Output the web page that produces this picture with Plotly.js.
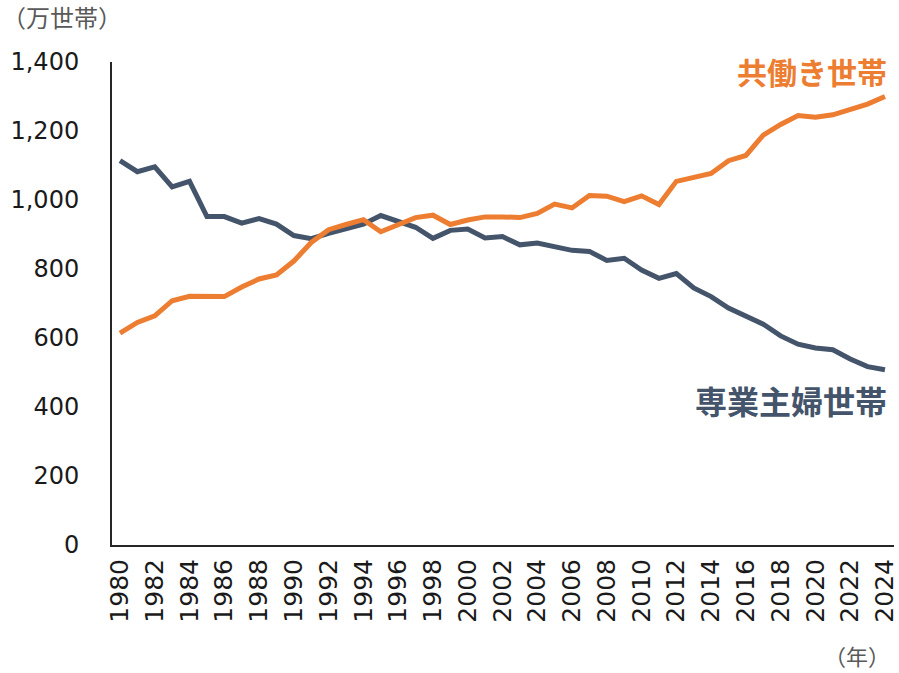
<!DOCTYPE html>
<html>
<head>
<meta charset="utf-8">
<script src="https://cdn.plot.ly/plotly-3.0.1.min.js"></script>
<style>html,body{margin:0;padding:0;background:#fff;}#chart{width:899px;height:673px;}</style>
</head>
<body>
<div id="chart"></div>
<script>
const years = [1980,1981,1982,1983,1984,1985,1986,1987,1988,1989,1990,1991,1992,1993,1994,1995,1996,1997,1998,1999,2000,2001,2002,2003,2004,2005,2006,2007,2008,2009,2010,2011,2012,2013,2014,2015,2016,2017,2018,2019,2020,2021,2022,2023,2024];
const dualIncome = [614,645,664,708,721,722,720,748,771,783,823,877,914,929,943,908,927,949,956,929,942,951,951,949,961,988,977,1013,1011,995,1012,987,1054,1065,1077,1114,1129,1188,1219,1245,1240,1247,1262,1278,1300];
const housewife = [1114,1082,1096,1038,1054,952,952,933,946,930,897,888,903,915,930,955,937,921,889,912,916,890,894,870,875,863,854,851,825,831,797,773,787,745,720,687,664,640,606,582,571,566,539,517,508];
const tickYears = [1980,1982,1984,1986,1988,1990,1992,1994,1996,1998,2000,2002,2004,2006,2008,2010,2012,2014,2016,2018,2020,2022,2024];
const yTicks = [0,200,400,600,800,1000,1200,1400];
const labelDual = '共働き世帯';
const labelWife = '専業主婦世帯';
const yUnit = '（万世帯）';
const xUnit = '（年）';

const orange = '#ED7D31';
const navy = '#44546A';
const W = 782, H = 483;

const traces = [
  {x: years, y: housewife, type: 'scatter', mode: 'lines', line: {color: navy, width: 5}, hoverinfo: 'x+y'},
  {x: years, y: dualIncome, type: 'scatter', mode: 'lines', line: {color: orange, width: 5}, hoverinfo: 'x+y'}
];

const layout = {
  width: 899, height: 673,
  margin: {l: 112, r: 5, t: 62, b: 128},
  paper_bgcolor: '#fff', plot_bgcolor: '#fff',
  showlegend: false,
  font: {family: 'DejaVu Sans, Verdana, sans-serif', color: '#1a1a1a', size: 25},
  xaxis: {
    range: [1979.54, 2024.52],
    tickmode: 'array', tickvals: tickYears, ticktext: tickYears.map(String),
    tickangle: -90, ticks: '', ticklabelstandoff: 2, ticklabeloverflow: 'allow',
    showgrid: false, zeroline: false,
    showline: true, linecolor: '#262626', linewidth: 2,
    tickfont: {size: 25, family: 'DejaVu Sans, Verdana, sans-serif', color: '#1a1a1a'}
  },
  yaxis: {
    range: [0, 1400],
    tickmode: 'array', tickvals: yTicks, ticktext: yTicks.map(v => v.toLocaleString('en-US')),
    ticks: '', ticklabelstandoff: 26,
    showgrid: false, zeroline: false,
    showline: true, linecolor: '#262626', linewidth: 2,
    tickfont: {size: 24, family: 'DejaVu Sans, Verdana, sans-serif', color: '#1a1a1a'}
  },
  annotations: [
    {text: yUnit, xref: 'paper', yref: 'paper', x: -112/W, y: 1 + 45/H, xanchor: 'left', yanchor: 'middle', showarrow: false,
     font: {family: 'Noto Sans CJK JP', size: 24, color: '#595959'}},
    {text: xUnit, xref: 'paper', yref: 'paper', x: 1 - 2/W, y: -110/H, xanchor: 'right', yanchor: 'middle', showarrow: false,
     font: {family: 'Noto Sans CJK JP', size: 22, color: '#595959'}},
    {text: '<b>' + labelDual + '</b>', xref: 'paper', yref: 'paper', x: 1 - 5/W, y: 1 - 9/H, xanchor: 'right', yanchor: 'middle', showarrow: false,
     font: {family: 'Noto Sans CJK JP', size: 30, color: orange}},
    {text: '<b>' + labelWife + '</b>', xref: 'paper', yref: 'paper', x: 1 - 5/W, y: 1 - 338/H, xanchor: 'right', yanchor: 'middle', showarrow: false,
     font: {family: 'Noto Sans CJK JP', size: 32, color: navy}}
  ]
};

Plotly.newPlot('chart', traces, layout, {displayModeBar: false, staticPlot: true});
</script>
</body>
</html>
